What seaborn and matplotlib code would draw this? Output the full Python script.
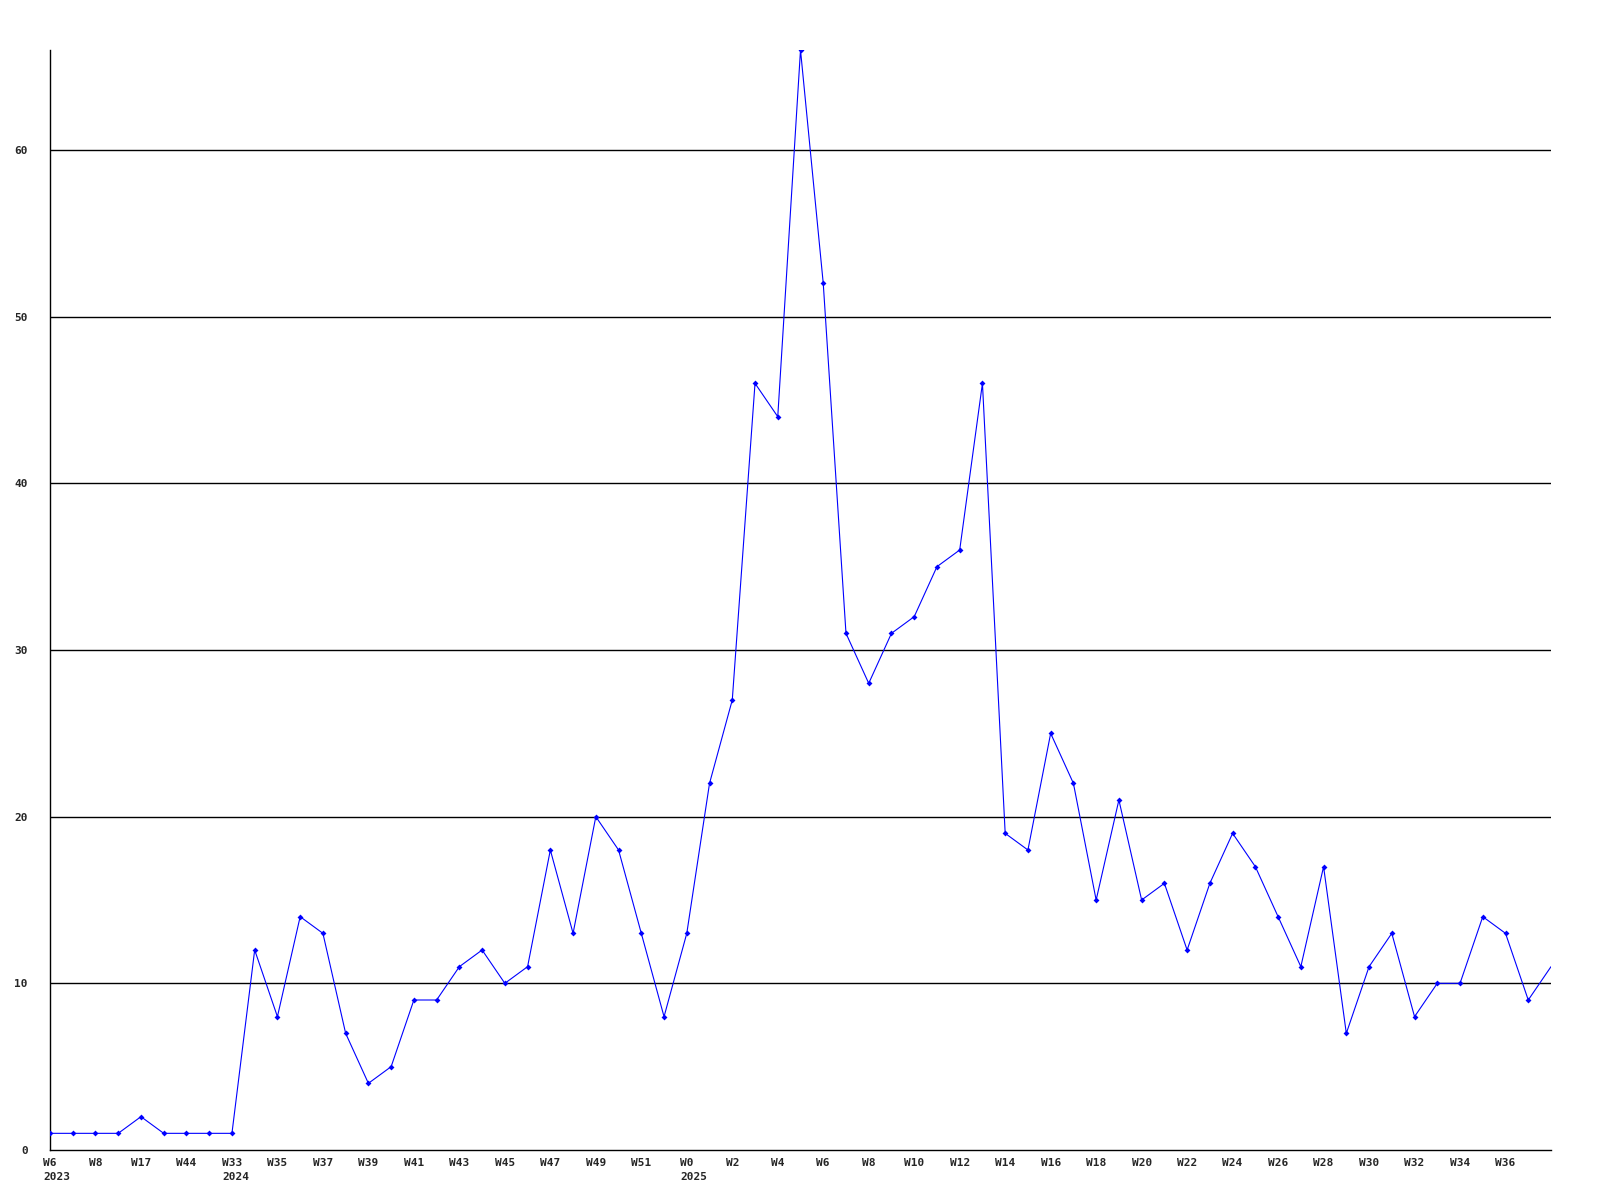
import matplotlib
matplotlib.use("Agg")
import matplotlib.pyplot as plt
import seaborn as sns
import pandas as pd

# Semanas (um ponto por semana)
semanas = (["W6", "W7", "W8", "W9", "W17", "W18", "W44", "W45"]
           + ["W%d" % w for w in range(33, 53)]
           + ["W%d" % w for w in range(0, 39)])
anos = {0: "2023", 8: "2024", 28: "2025"}

contagem = [1, 1, 1, 1, 2, 1, 1, 1, 1, 12,
            8, 14, 13, 7, 4, 5, 9, 9, 11, 12,
            10, 11, 18, 13, 20, 18, 13, 8, 13, 22,
            27, 46, 44, 66, 52, 31, 28, 31, 32, 35,
            36, 46, 19, 18, 25, 22, 15, 21, 15, 16,
            12, 16, 19, 17, 14, 11, 17, 7, 11, 13,
            8, 10, 10, 14, 13, 9, 11]

df = pd.DataFrame({"pos": range(len(contagem)), "semana": semanas, "n": contagem})

sns.set_style("white")
plt.rcParams["font.family"] = ["DejaVu Sans Mono"]
plt.rcParams["font.weight"] = "bold"

fig = plt.figure(figsize=(16, 12), dpi=100)
ax = fig.add_axes([50 / 1600, 1 - 1150 / 1200, 1501 / 1600, 1100 / 1200])

# Linhas de grade horizontais
for y in range(10, 61, 10):
    ax.axhline(y, color="black", lw=1, zorder=1)

sns.lineplot(data=df, x="pos", y="n", color="#0000ff", lw=0.8,
             marker="D", markersize=3, markeredgewidth=0,
             markevery=list(range(len(contagem) - 1)), ax=ax, zorder=3)

ax.set_xlim(0, len(contagem) - 1)
ax.set_ylim(0, 66)

ticks = list(range(0, 65, 2))
ax.set_xticks(ticks)
ax.set_xticklabels([semanas[i] for i in ticks], fontsize=8, fontweight="bold")
ax.set_yticks(range(0, 61, 10))
ax.set_yticklabels([str(v) for v in range(0, 61, 10)], fontsize=8, fontweight="bold")
ax.tick_params(axis="x", length=0, pad=6)
ax.tick_params(axis="y", length=0, pad=16)

# Ano abaixo da primeira semana de cada ano, alinhado à esquerda
for i, ano in anos.items():
    ax.annotate(ano, xy=(i, 0), xycoords=("data", "axes fraction"),
                xytext=(-len(semanas[i]) * 6.6 / 2 * 0.72, -19.5),
                textcoords="offset points", ha="left", va="center",
                fontsize=8, fontweight="bold", annotation_clip=False)

ax.set_xlabel("")
ax.set_ylabel("")
for lado in ["top", "right"]:
    ax.spines[lado].set_visible(False)
for lado in ["left", "bottom"]:
    ax.spines[lado].set_color("black")
    ax.spines[lado].set_linewidth(1)

fig.savefig("out.png", dpi=100, facecolor="white")
